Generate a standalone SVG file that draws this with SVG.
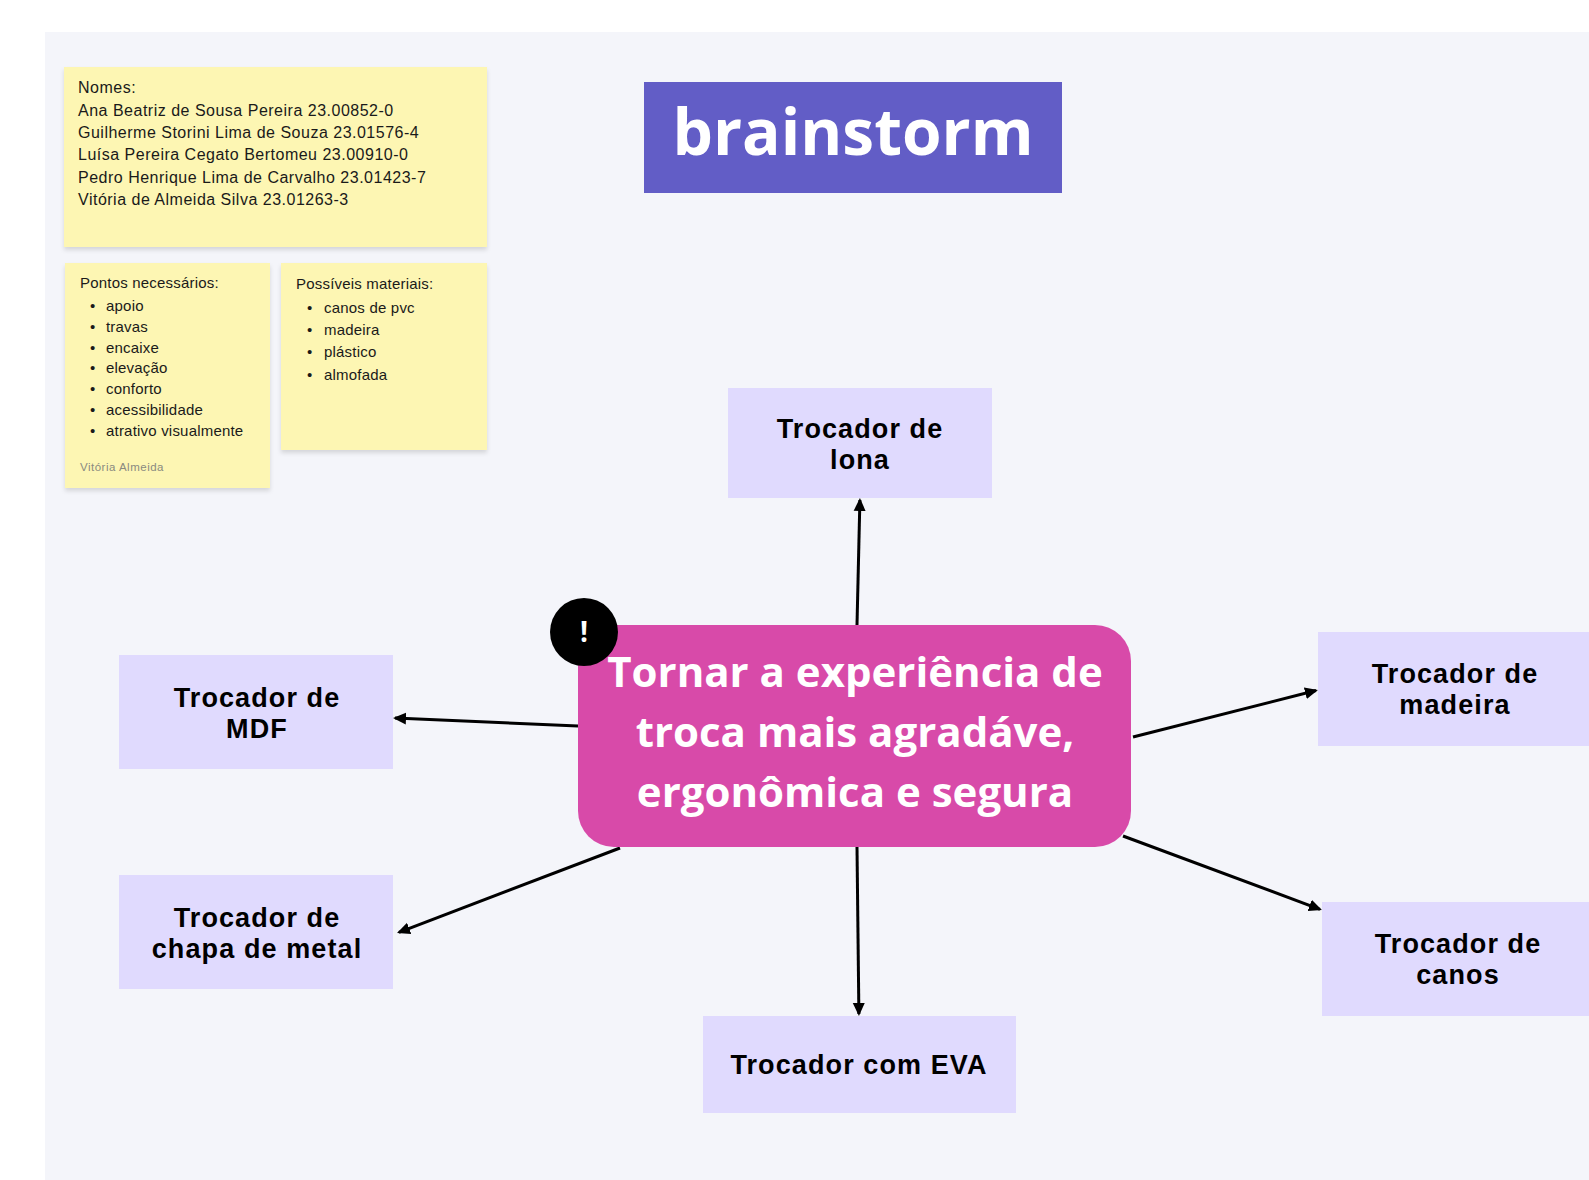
<svg xmlns="http://www.w3.org/2000/svg" width="1589" height="1180" viewBox="0 0 1589 1180">
<defs>
<style>
.note{fill:#fdf6b3}
.nt{font-family:"Liberation Sans",Arial,sans-serif;font-size:16px;fill:#1a1a1a;letter-spacing:0.5px}
.lt{font-family:"Liberation Sans",Arial,sans-serif;font-size:15px;fill:#1a1a1a;letter-spacing:0.2px}
.node{fill:#e0dafe}
.nl{font-family:"Liberation Sans",Arial,sans-serif;font-size:27px;font-weight:bold;fill:#000;text-anchor:middle;letter-spacing:1.1px}
.edge{stroke:#000;stroke-width:3;fill:none;marker-end:url(#ah)}
.ct{font-family:"Open Sans","Noto Sans",sans-serif;font-weight:bold;font-size:42px;fill:#fff;text-anchor:middle}
</style>
<marker id="ah" markerUnits="userSpaceOnUse" markerWidth="14" markerHeight="14" refX="11" refY="7" orient="auto">
<path d="M0,1 L13,7 L0,13 z" fill="#000"/>
</marker>
<filter id="sh" x="-5%" y="-5%" width="110%" height="115%">
<feDropShadow dx="0" dy="3" stdDeviation="2" flood-color="#000" flood-opacity="0.13"/>
</filter>
</defs>
<rect x="0" y="0" width="1589" height="1180" fill="#ffffff"/>
<rect x="45" y="32" width="1544" height="1148" fill="#f4f5fa"/>

<g id="note-nomes">
<rect class="note" x="64" y="67" width="423" height="180" filter="url(#sh)"/>
<text class="nt" x="78" y="93">Nomes:</text>
<text class="nt" x="78" y="116">Ana Beatriz de Sousa Pereira 23.00852-0</text>
<text class="nt" x="78" y="138">Guilherme Storini Lima de Souza 23.01576-4</text>
<text class="nt" x="78" y="160">Luísa Pereira Cegato Bertomeu 23.00910-0</text>
<text class="nt" x="78" y="183">Pedro Henrique Lima de Carvalho 23.01423-7</text>
<text class="nt" x="78" y="205">Vitória de Almeida Silva 23.01263-3</text>
</g>

<g id="note-pontos">
<rect class="note" x="65" y="263" width="205" height="225" filter="url(#sh)"/>
<text class="lt" x="80" y="288">Pontos necessários:</text>
<g class="lt">
<text x="90" y="311">•</text><text x="106" y="311">apoio</text>
<text x="90" y="332">•</text><text x="106" y="332">travas</text>
<text x="90" y="353">•</text><text x="106" y="353">encaixe</text>
<text x="90" y="373">•</text><text x="106" y="373">elevação</text>
<text x="90" y="394">•</text><text x="106" y="394">conforto</text>
<text x="90" y="415">•</text><text x="106" y="415">acessibilidade</text>
<text x="90" y="436">•</text><text x="106" y="436">atrativo visualmente</text>
</g>
<text x="80" y="471" font-family="Liberation Sans, Arial, sans-serif" font-size="11.5px" letter-spacing="0.5" fill="#8a8a80">Vitória Almeida</text>
</g>

<g id="note-materiais">
<rect class="note" x="281" y="263" width="206" height="187" filter="url(#sh)"/>
<text class="lt" x="296" y="289">Possíveis materiais:</text>
<g class="lt">
<text x="307" y="313">•</text><text x="324" y="313">canos de pvc</text>
<text x="307" y="335">•</text><text x="324" y="335">madeira</text>
<text x="307" y="357">•</text><text x="324" y="357">plástico</text>
<text x="307" y="380">•</text><text x="324" y="380">almofada</text>
</g>
</g>

<g id="title">
<rect x="644" y="82" width="418" height="111" fill="#625dc6"/>
<text x="853" y="155" font-family="Open Sans, Noto Sans, sans-serif" font-weight="bold" font-size="64px" fill="#fff" text-anchor="middle">brainstorm</text>
</g>

<g id="connectors">
<path class="edge" d="M857,625 L859.9,500"/>
<path class="edge" d="M1133,737 L1316,690.5"/>
<path class="edge" d="M1123,836 L1320,909.3"/>
<path class="edge" d="M857,847 L858.9,1014"/>
<path class="edge" d="M578,726 L395,718.1"/>
<path class="edge" d="M620,848 L398.9,932.3"/>
</g>

<g id="node-lona">
<rect class="node" x="728" y="388" width="264" height="110"/>
<text class="nl" x="860" y="438">Trocador de</text>
<text class="nl" x="860" y="469">lona</text>
</g>

<g id="node-madeira">
<rect class="node" x="1318" y="632" width="271" height="114"/>
<text class="nl" x="1455" y="683">Trocador de</text>
<text class="nl" x="1455" y="714">madeira</text>
</g>

<g id="node-canos">
<rect class="node" x="1322" y="902" width="267" height="114"/>
<text class="nl" x="1458" y="953">Trocador de</text>
<text class="nl" x="1458" y="984">canos</text>
</g>

<g id="node-mdf">
<rect class="node" x="119" y="655" width="274" height="114"/>
<text class="nl" x="257" y="707">Trocador de</text>
<text class="nl" x="257" y="738">MDF</text>
</g>

<g id="node-chapa">
<rect class="node" x="119" y="875" width="274" height="114"/>
<text class="nl" x="257" y="927">Trocador de</text>
<text class="nl" x="257" y="958">chapa de metal</text>
</g>

<g id="node-eva">
<rect class="node" x="703" y="1016" width="313" height="97"/>
<text class="nl" x="859" y="1074" letter-spacing="0">Trocador com EVA</text>
</g>

<g id="node-central">
<rect x="578" y="625" width="553" height="222" rx="36" ry="36" fill="#d84aa9"/>
<text class="ct" x="855" y="687">Tornar a experiência de</text>
<text class="ct" x="855" y="747">troca mais agradáve,</text>
<text class="ct" x="855" y="807">ergonômica e segura</text>
</g>

<g id="badge">
<circle cx="584" cy="632" r="34" fill="#000"/>
<text x="584" y="642" font-family="Open Sans, Noto Sans, sans-serif" font-weight="bold" font-size="28px" fill="#fff" text-anchor="middle">!</text>
</g>
</svg>
